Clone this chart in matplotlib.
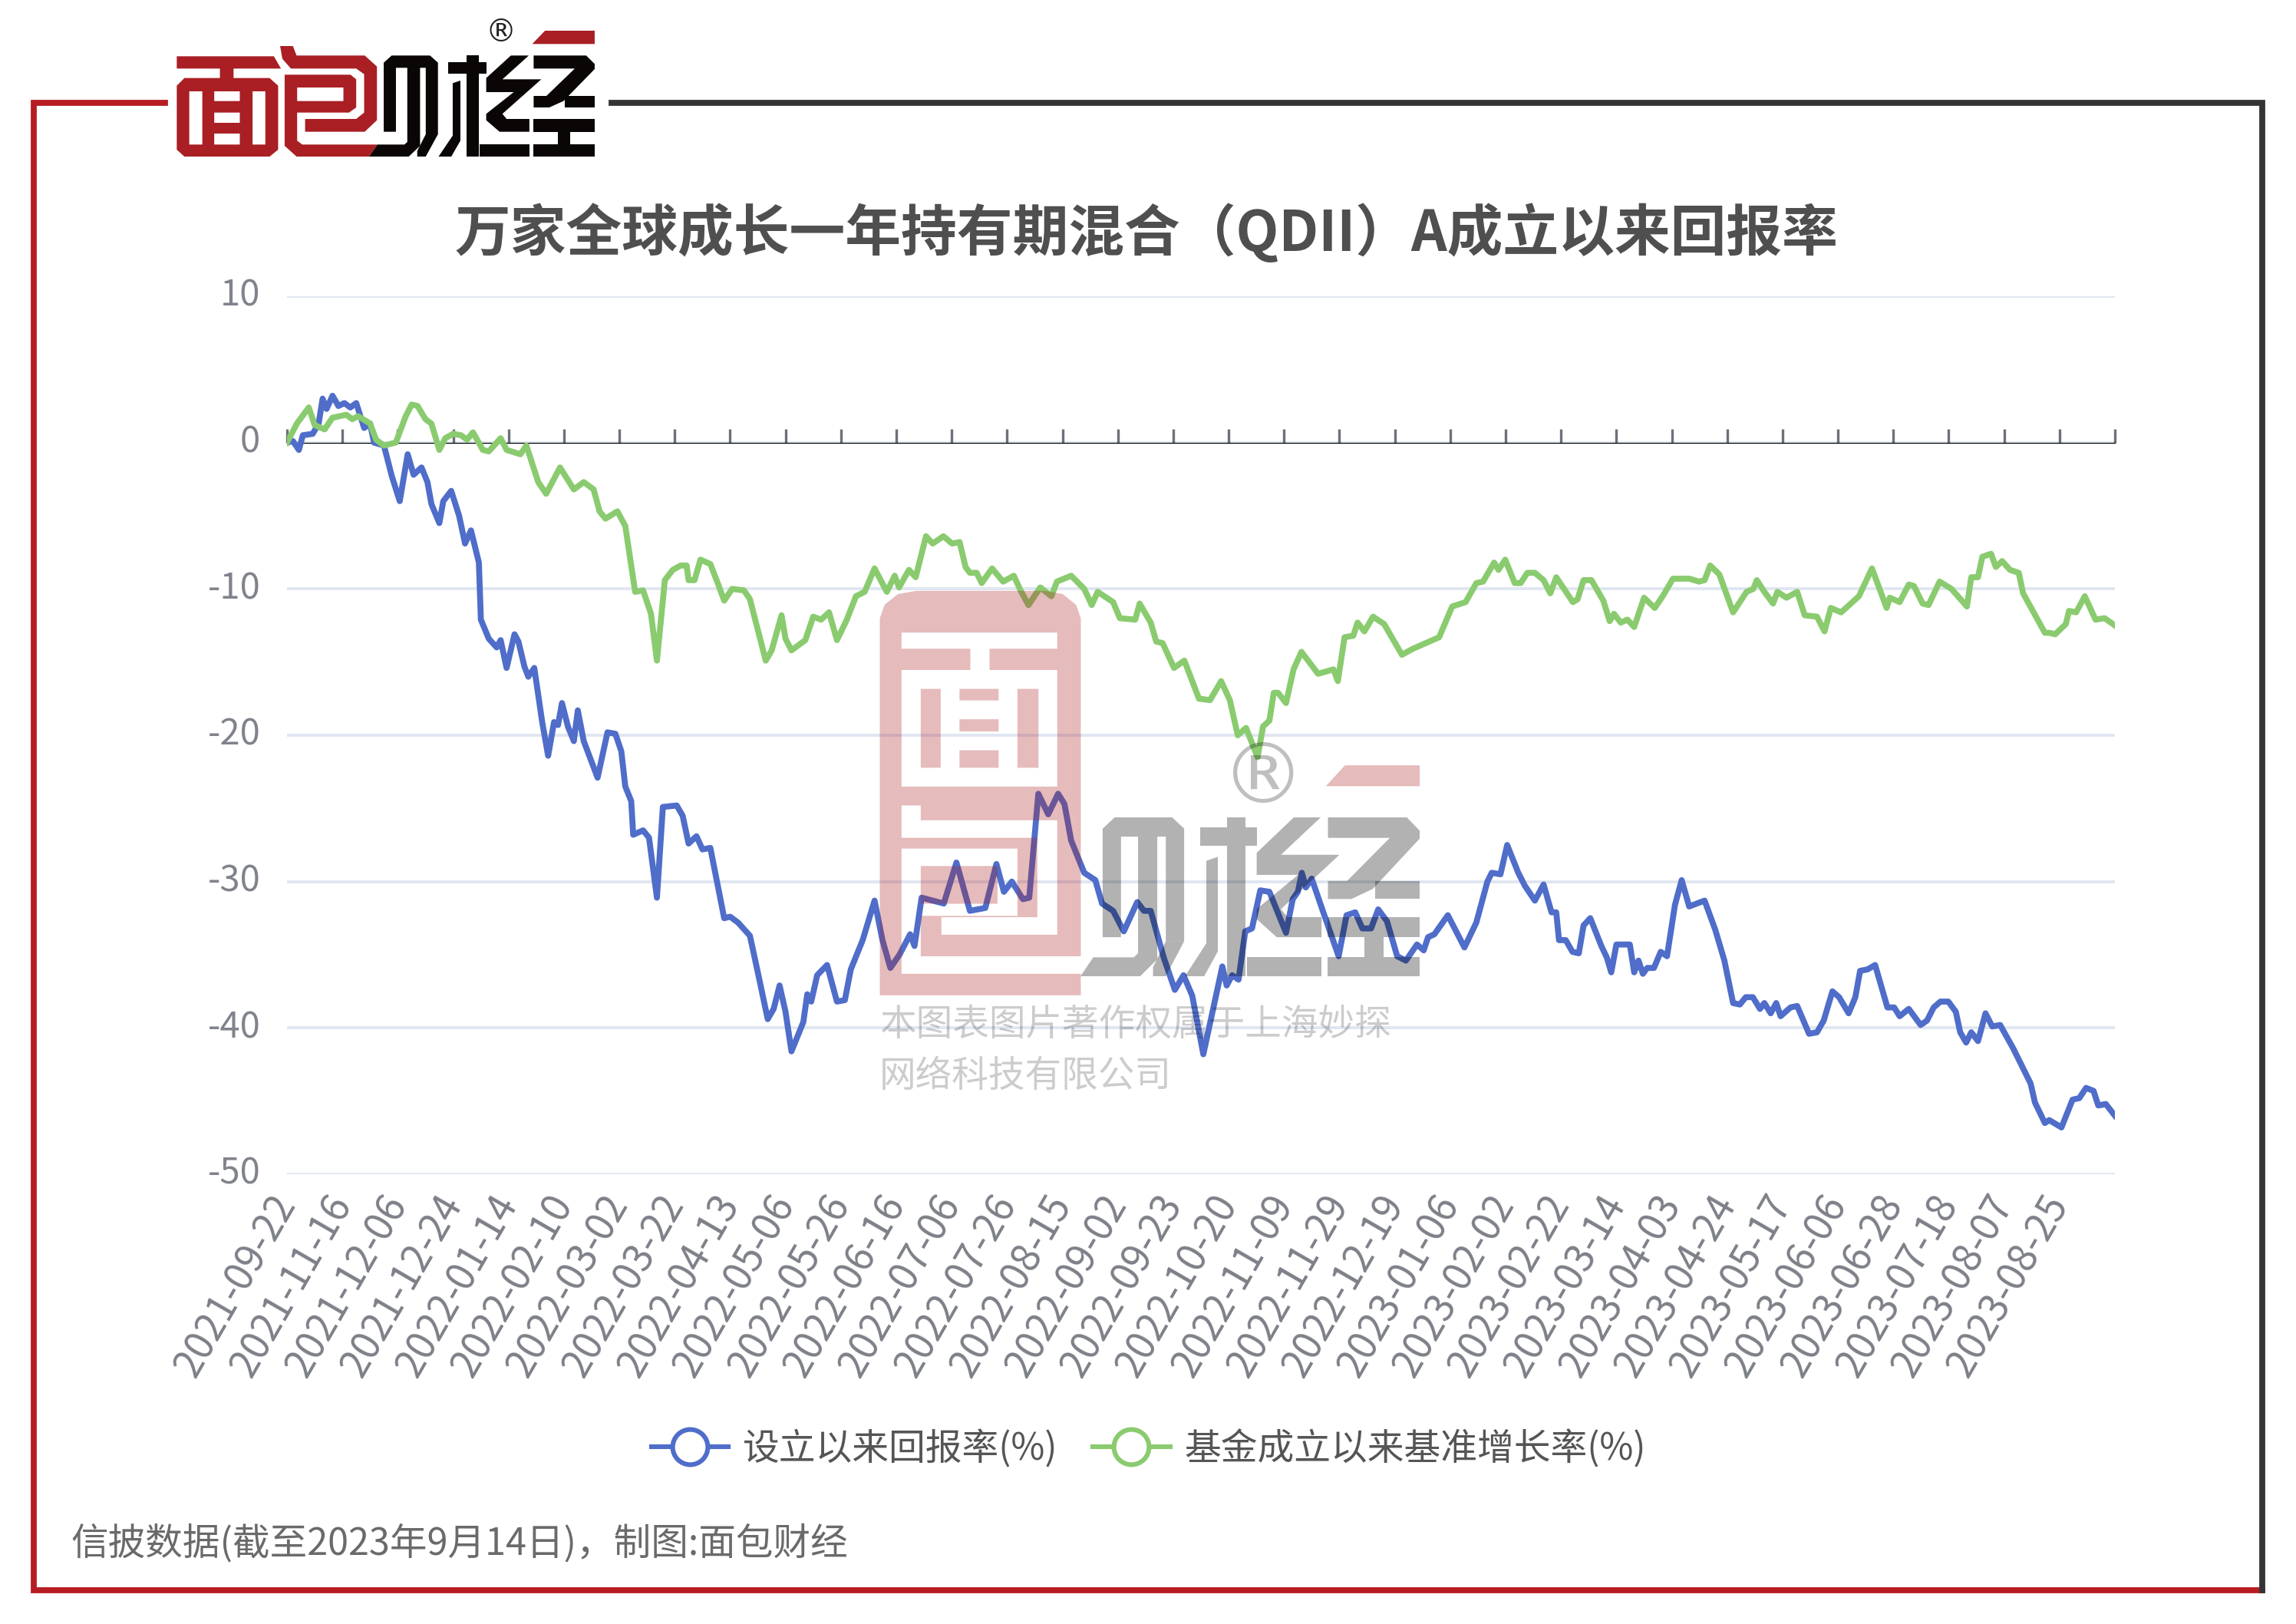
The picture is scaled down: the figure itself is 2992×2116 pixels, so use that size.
import matplotlib
matplotlib.use("Agg")
import matplotlib.pyplot as plt
import numpy as np
from matplotlib.lines import Line2D
from matplotlib.patches import PathPatch
from matplotlib.path import Path
from matplotlib.transforms import ScaledTranslation

plt.rcParams["font.family"] = ["Noto Sans CJK SC", "DejaVu Sans"]

# --- Data (x = trading day since start) ---
title = "万家全球成长一年持有期混合（QDII）A成立以来回报率"
series_names = ["设立以来回报率(%)", "基金成立以来基准增长率(%)"]
date_labels = [
    "2021-09-22", "2021-11-16", "2021-12-06", "2021-12-24", "2022-01-14", "2022-02-10",
    "2022-03-02", "2022-03-22", "2022-04-13", "2022-05-06", "2022-05-26", "2022-06-16",
    "2022-07-06", "2022-07-26", "2022-08-15", "2022-09-02", "2022-09-23", "2022-10-20",
    "2022-11-09", "2022-11-29", "2022-12-19", "2023-01-06", "2023-02-02", "2023-02-22",
    "2023-03-14", "2023-04-03", "2023-04-24", "2023-05-17", "2023-06-06", "2023-06-28",
    "2023-07-18", "2023-08-07", "2023-08-25",
]
days_per_tick = 14
y_ticks = [10, 0, -10, -20, -30, -40, -50]

fund_day = [
    0, 1.5, 3, 4, 6.5, 8, 9, 10, 11.5, 13, 14.5, 16, 17.5, 19.5, 21, 22, 24.5, 26.5, 28.5, 30.5,
    32, 34, 35.5, 36.5, 38.5, 39.5, 41.5, 43.5, 45, 46.5, 48.5, 49, 51, 53, 54, 55.5, 57.5, 58.5, 60, 61,
    62.5, 64.5, 66, 67.5, 68.5, 69.5, 71, 72.5, 73.5, 75, 78.5, 81, 83, 84.5, 85.5, 87, 87.5, 90, 91.5, 93.5,
    95, 98.5, 100, 101.5, 103.5, 105, 107, 110.5, 112, 114, 117, 119, 121.5, 123, 124.5, 126, 127.5, 130.5, 131.5, 132.5,
    134, 136.5, 139, 141, 142.5, 145.5, 148.5, 150.5, 152.5, 154.8, 157.5, 158.6, 160.4, 166, 169.2, 172.6, 176.5, 179.3, 181.2, 183.2,
    186, 187.6, 189.9, 192.4, 194.9, 196.5, 198.2, 201.5, 204.3, 206, 208.8, 211.5, 214.9, 216.6, 218.3, 221.6, 224.4, 226.6, 228.8, 231.6,
    236.4, 237.5, 238.9, 240.5, 242.2, 243.9, 246, 248.3, 252.5, 254.2, 255.5, 256.5, 257.5, 259, 261.8, 265.8, 267.8, 270, 271.8, 274,
    275.8, 278, 280.6, 282.8, 285.6, 287.3, 288.4, 290, 293.4, 297.6, 300.6, 303.4, 304.5, 306.7, 308.4, 311.2, 312.9, 315.4, 317.6, 319.6,
    320.8, 321.5, 323.2, 324.9, 326.5, 327.7, 329.4, 332.2, 333.6, 334.7, 336, 339.4, 340.5, 341.6, 342.7, 343.8, 345.5, 347.2, 348.8, 350.8,
    352.5, 354.4, 358.3, 361, 363.3, 365.5, 367.2, 368.7, 370.5, 372.3, 373.4, 375, 376.4, 377.5, 380, 381.7, 384.7, 386.7, 388.4, 390.6,
    392.3, 394.7, 396.4, 397.6, 399.5, 401.4, 404.5, 406.2, 407.6, 409.9, 412.9, 414.5, 416.2, 417.9, 419.9, 421.8, 422.9, 424.4, 425.7, 427.4,
    429.3, 431, 433, 436.3, 440.7, 441.8, 444.3, 445.4, 448.5, 451.3, 453, 454.7, 456.6, 457.8, 459.7, 462,
]
fund_return = [
    0, 0.1, -0.5, 0.5, 0.6, 1.3, 3.0, 2.3, 3.2, 2.5, 2.7, 2.4, 2.7, 1.0, 1.3, 0, -0.2, -2.3, -4.0, -0.8,
    -2.2, -1.7, -2.7, -4.2, -5.5, -4.0, -3.3, -5.0, -6.9, -6.0, -8.2, -12.1, -13.4, -14.0, -13.5, -15.4, -13.1, -13.6, -15.3, -16.0,
    -15.4, -19.1, -21.4, -19.1, -19.3, -17.8, -19.4, -20.4, -18.3, -20.4, -22.9, -19.8, -19.9, -21.1, -23.5, -24.5, -26.8, -26.5, -27.0, -31.1,
    -24.9, -24.8, -25.5, -27.4, -26.9, -27.8, -27.7, -32.5, -32.4, -32.8, -33.7, -36.2, -39.4, -38.7, -37.1, -38.9, -41.6, -39.6, -37.7, -38.2,
    -36.4, -35.7, -38.2, -38.1, -36.0, -34.0, -31.3, -34.0, -35.9, -35.0, -33.6, -34.4, -31.1, -31.5, -28.7, -32.0, -31.8, -28.8, -30.7, -30.0,
    -31.2, -31.1, -24.0, -25.4, -24.0, -24.7, -27.2, -29.4, -29.9, -31.5, -32.0, -33.4, -31.4, -32.0, -32.0, -35.2, -37.4, -36.4, -37.8, -41.8,
    -35.8, -37.1, -36.4, -36.7, -33.4, -33.2, -30.6, -30.7, -33.5, -31.2, -30.7, -29.4, -30.4, -29.8, -32.0, -35.1, -32.3, -32.1, -33.2, -33.2,
    -31.9, -32.7, -35.1, -35.4, -34.3, -34.7, -33.8, -33.6, -32.3, -34.5, -32.8, -30.0, -29.4, -29.5, -27.5, -29.4, -30.3, -31.3, -30.2, -32.1,
    -32.1, -34.0, -34.0, -34.8, -34.9, -33.0, -32.5, -34.4, -35.2, -36.2, -34.3, -34.3, -36.2, -35.4, -36.3, -35.9, -35.9, -34.8, -35.1, -31.6,
    -29.9, -31.7, -31.3, -33.3, -35.4, -38.3, -38.4, -37.9, -37.9, -38.7, -38.3, -39.0, -38.3, -39.2, -38.6, -38.5, -40.4, -40.3, -39.5, -37.5,
    -37.9, -39.0, -37.9, -36.1, -36.0, -35.7, -38.6, -38.6, -39.2, -38.7, -39.8, -39.5, -38.6, -38.2, -38.2, -38.9, -40.3, -41.0, -40.3, -40.9,
    -39.0, -39.9, -39.8, -41.4, -43.8, -45.1, -46.5, -46.3, -46.8, -44.9, -44.8, -44.1, -44.3, -45.3, -45.2, -46.0,
]
bench_day = [
    0, 2.5, 5.5, 7, 9.5, 11.5, 15, 16.5, 18, 21, 22.5, 24.5, 27.5, 30, 31.5, 33, 35, 36.5, 38.5, 40,
    42, 44, 45.5, 47, 49.5, 51, 54, 55.5, 59, 60.5, 63.5, 65.5, 69, 72.5, 75, 77.5, 79, 80.5, 83.5, 85.5,
    88, 90, 92, 93.5, 95.5, 97.5, 99.5, 101, 101.5, 103, 104.5, 107, 109, 110.5, 112.5, 115.5, 117, 121, 122.5, 125,
    126, 127.5, 131, 133, 135, 137, 139, 141.5, 143.8, 146, 148.5, 151.6, 153.6, 154.7, 157.2, 158.9, 161.5, 163.2, 165.9, 168.1,
    170, 171.5, 172.6, 174.3, 175.6, 178.2, 181, 183.7, 185.4, 187.4, 190.4, 193.2, 194.6, 198.2, 201.5, 203.4, 204.9, 208.8, 210.5, 214.4,
    215.5, 218.3, 219.7, 221.3, 224.2, 226.8, 230.5, 233.3, 236.1, 238.3, 240.3, 242.4, 245.3, 246.7, 248.3, 249.4, 250.5, 252.5, 254.4, 256.4,
    260.6, 264.5, 265.6, 267.3, 269.5, 270.6, 272.3, 274.5, 277.3, 281.8, 284.5, 291.2, 294.5, 297.9, 300.6, 302.3, 305.1, 306.2, 307.9, 310.3,
    311.8, 313.5, 315.4, 317.6, 319.3, 320.8, 325, 326.2, 327.7, 329.7, 332.7, 334.3, 335.4, 337.1, 338.8, 340.5, 343, 345.7, 347.7, 350.3,
    354.4, 356.9, 358.3, 359.7, 362, 365.5, 368.9, 370.6, 371.5, 373.4, 375.6, 376.7, 379, 381.7, 383.6, 386.7, 388.6, 390.2, 392.8, 397.3,
    400.6, 404.3, 405.1, 407.6, 409.9, 411.2, 413.4, 414.9, 417.7, 420.7, 424.6, 425.7, 427.4, 428.5, 430.7, 431.9, 433.5, 435.5, 437.7, 438.8,
    444.3, 445.4, 446.9, 449.6, 450.4, 452.2, 454.4, 457.1, 459.4, 462,
]
bench_return = [
    0, 1.3, 2.4, 1.2, 0.9, 1.7, 1.9, 1.6, 1.8, 1.3, 0.2, -0.2, 0, 1.8, 2.6, 2.5, 1.6, 1.3, -0.5, 0.3,
    0.6, 0.5, 0.2, 0.7, -0.5, -0.6, 0.3, -0.5, -0.8, -0.2, -2.7, -3.5, -1.7, -3.2, -2.7, -3.2, -4.7, -5.2, -4.7, -5.7,
    -10.2, -10.1, -11.7, -14.9, -9.4, -8.7, -8.4, -8.4, -9.4, -9.4, -8.0, -8.3, -9.7, -10.8, -10.0, -10.1, -10.7, -14.9, -14.2, -11.8,
    -13.4, -14.2, -13.5, -11.9, -12.1, -11.6, -13.5, -12.1, -10.5, -10.2, -8.6, -10.2, -9.1, -9.9, -8.7, -9.2, -6.4, -6.9, -6.4, -6.9,
    -6.8, -8.5, -8.9, -8.9, -9.6, -8.6, -9.5, -9.1, -10.1, -11.1, -9.9, -10.5, -9.5, -9.1, -10.0, -11.1, -10.2, -10.9, -12.0, -12.1,
    -11.0, -12.3, -13.6, -13.7, -15.4, -14.9, -17.5, -17.6, -16.3, -17.6, -20.0, -19.5, -21.5, -19.4, -19.0, -17.1, -17.1, -17.8, -15.5, -14.3,
    -15.8, -15.5, -16.3, -13.3, -13.2, -12.3, -12.9, -11.9, -12.4, -14.5, -14.1, -13.3, -11.2, -10.9, -9.6, -9.5, -8.2, -8.7, -8.0, -9.6,
    -9.6, -8.9, -8.9, -9.4, -10.3, -9.2, -10.9, -10.7, -9.4, -9.4, -10.8, -12.2, -11.7, -12.3, -12.1, -12.6, -10.6, -11.3, -10.5, -9.3,
    -9.3, -9.5, -9.4, -8.4, -9.0, -11.6, -10.2, -10.0, -9.4, -10.2, -11.0, -10.2, -10.6, -10.2, -11.8, -11.9, -12.9, -11.3, -11.6, -10.5,
    -8.6, -11.3, -10.6, -10.9, -9.7, -9.8, -11.0, -11.1, -9.5, -10.0, -11.2, -9.2, -9.2, -7.8, -7.6, -8.5, -8.1, -8.7, -8.9, -10.3,
    -13.0, -13.0, -13.1, -12.4, -11.5, -11.6, -10.5, -12.1, -12.0, -12.5,
]

# --- Figure ---
W, H = 2992, 2116
fig = plt.figure(figsize=(W / 100, H / 100), dpi=100, facecolor="white")
ax = fig.add_axes([374 / W, 1 - 1530 / H, (2756 - 374) / W, (1530 - 386) / H])

blue, green = "#4F6DC9", "#8ACB6F"
ax.plot(fund_day, fund_return, color=blue, lw=5.6, solid_joinstyle="round", zorder=3)
ax.plot(bench_day, bench_return, color=green, lw=5.6, solid_joinstyle="round", zorder=3)

ticks = np.arange(len(date_labels) + 1) * days_per_tick
ax.set_xlim(0, ticks[-1])
ax.set_ylim(-50, 10)
ax.set_yticks(y_ticks)
ax.set_yticklabels([str(v) for v in y_ticks], fontsize=34, color="#80838C")
ax.tick_params(axis="y", length=0, pad=25)
ylab_shift = ScaledTranslation(0, 6 / 100, fig.dpi_scale_trans)
for lab in ax.get_yticklabels():
    lab.set_verticalalignment("center_baseline")
    lab.set_transform(lab.get_transform() + ylab_shift)
ax.grid(axis="y", color="#E0E6F1", lw=2.8, zorder=0)
ax.set_axisbelow(True)
for side in ax.spines:
    ax.spines[side].set_visible(False)

# date labels sit under the plot, tick marks sit on the zero line
ax.set_xticks(ticks[:-1])
ax.set_xticklabels(date_labels, fontsize=37, color="#7D8088", rotation=60, ha="right",
                   va="top", rotation_mode="anchor")
ax.tick_params(axis="x", length=0, pad=18)
xlab_shift = ScaledTranslation(-23 / 100, 8 / 100, fig.dpi_scale_trans)
for lab in ax.get_xticklabels():
    lab.set_transform(lab.get_transform() + xlab_shift)

zero_axis = ax.secondary_xaxis(50 / 60)
zero_axis.set_xticks(ticks)
zero_axis.set_xticklabels([])
zero_axis.tick_params(length=13, width=2.4, color="#6E7079")
zero_axis.spines["bottom"].set_color("#6E7079")
zero_axis.spines["bottom"].set_linewidth(2.8)
zero_axis.set_zorder(1)

fig.text(1494 / W, 1 - 304 / H, title, fontsize=52.4, fontweight="bold", color="#4F4F4F",
         ha="center", va="center")

handles = [
    Line2D([], [], color=c, lw=4.4, marker="o", ms=33, mfc="white", mec=c, mew=4.4)
    for c in (blue, green)
]
fig.legend(handles, series_names, loc="center", bbox_to_anchor=(1497 / W, 1 - 1888 / H), ncol=2,
           frameon=False, fontsize=34.4, labelcolor="#555555", handlelength=2.1, handletextpad=0.4,
           columnspacing=0.95, borderpad=0)

fig.text(92 / W, 1 - 2011 / H, "信披数据(截至2023年9月14日)，制图:面包财经", fontsize=35,
         color="#6A6A6A", ha="left", va="center")

# --- Frame, logo and watermark live on an overlay in pixel coordinates ---
deco = fig.add_axes([0, 0, 1, 1], zorder=5)
deco.set_xlim(0, W)
deco.set_ylim(H, 0)
deco.axis("off")
deco.patch.set_alpha(0)

red, dark = "#B71C23", "#343434"
frame_w = 5.6
deco.plot([215, 44, 44, 2948], [134, 134, 2072, 2072], color=red, lw=frame_w, solid_joinstyle="miter")
deco.plot([797, 2948, 2948], [134, 134, 2072], color=dark, lw=frame_w, solid_joinstyle="miter")


def rect(x0, y0, x1, y1):
    return [(x0, y0), (x1, y0), (x1, y1), (x0, y1)]


def signed_area(poly):
    pts = np.array(poly)
    x, y = pts[:, 0], pts[:, 1]
    return 0.5 * np.sum(x * np.roll(y, -1) - np.roll(x, -1) * y)


def add_shape(solid, holes, ox, oy, sx, sy, color, alpha=1.0):
    # holes run the other way round so the nonzero fill leaves them empty
    parts = []
    for poly, sign in [(p, 1) for p in solid] + [(p, -1) for p in holes]:
        pts = list(poly)
        if signed_area(pts) * sign < 0:
            pts = pts[::-1]
        pts = np.array(pts + [pts[0]], dtype=float)
        pts = np.column_stack([ox + pts[:, 0] * sx, oy + pts[:, 1] * sy])
        parts.append(Path(pts, closed=True))
    deco.add_patch(PathPatch(Path.make_compound_path(*parts), fc=color, ec="none", alpha=alpha))


# header logo glyph outlines, in one local unit system
mian = [(28, 275), (55, 245), (180, 245), (180, 208), (28, 208), (28, 160), (370, 160), (395, 208),
        (228, 208), (228, 245), (355, 245), (385, 275), (385, 525), (355, 552), (55, 552), (28, 525)]
mian_holes = [rect(72, 297, 118, 505), rect(295, 297, 340, 505), rect(160, 297, 250, 335),
              rect(160, 380, 250, 420), rect(160, 462, 250, 505)]
bao_outer = [(392, 120), (437, 120), (450, 157), (690, 157), (733, 200), (733, 410), (690, 455), (480, 455),
             (480, 405), (660, 405), (688, 380), (688, 230), (660, 208), (430, 208), (400, 170)]
bao_inner = [(408, 232), (640, 232), (660, 250), (660, 360), (635, 380), (452, 380), (452, 490), (470, 505),
             (735, 505), (705, 552), (450, 552), (408, 510)]
bao_hole = [rect(452, 282, 615, 335)]
cai_parts = [
    [(757, 455), (757, 185), (785, 157), (920, 157), (948, 185), (948, 465), (905, 465), (905, 205),
     (885, 205), (885, 510), (845, 552), (705, 552), (735, 505), (830, 505), (840, 495), (840, 205),
     (800, 205), (800, 455)],
    [(905, 465), (948, 465), (905, 552), (875, 552), (875, 530)],
    [(985, 182), (1048, 182), (1048, 157), (1092, 157), (1092, 182), (1118, 182), (1118, 228), (1092, 228),
     (1092, 552), (1048, 552), (1048, 228), (985, 228)],
    [(1000, 265), (1027, 255), (1027, 490), (995, 552), (950, 552), (1000, 470)],
]
jing_parts = [
    [(1205, 157), (1268, 157), (1175, 250), (1312, 250), (1175, 385), (1190, 405), (1270, 405), (1270, 455),
     (1165, 455), (1118, 410), (1118, 385), (1215, 300), (1118, 300), (1118, 245)],
    rect(1095, 505, 1270, 552),
    [(1285, 157), (1470, 157), (1500, 190), (1500, 210), (1390, 335), (1340, 360), (1285, 360), (1285, 315),
     (1330, 315), (1430, 208), (1285, 208)],
    rect(1395, 315, 1500, 360),
    rect(1285, 405, 1500, 455),
    rect(1370, 455, 1415, 505),
    rect(1285, 505, 1500, 552),
]
wedge = [(1280, 112), (1325, 60), (1500, 60), (1500, 112)]

logo_red, logo_black = "#A91F24", "#0A0606"
lx, ly, lsx, lsy = 220, 20, 1 / 2.703, 1 / 3.0
add_shape([mian], mian_holes, lx, ly, lsx, lsy, logo_red)
add_shape([bao_outer], [], lx, ly, lsx, lsy, logo_red)
add_shape([bao_inner], bao_hole, lx, ly, lsx, lsy, logo_red)
add_shape([wedge], [], lx, ly, lsx, lsy, logo_red)
for part in cai_parts + jing_parts:
    add_shape([part], [], lx, ly, lsx, lsy, logo_black)
deco.text(653, 43, "®", family="DejaVu Sans", fontsize=29, color="#222222", ha="center", va="center")

# watermark: red block with white strokes, grey word beside it, blended over the lines
wm_alpha = 0.3
block = [(35, 1530), (35, 130), (48, 80), (85, 40), (135, 28), (490, 28), (540, 40), (577, 80), (590, 130),
         (590, 1530)]
block_holes = [
    [(95, 183), (525, 183), (525, 243), (338, 243), (338, 322), (525, 322), (525, 755), (95, 755), (95, 322),
     (285, 322), (285, 243), (95, 243)],
    [(95, 825), (148, 825), (148, 880), (525, 880), (525, 1305), (205, 1305), (205, 1240), (470, 1240),
     (470, 945), (95, 945)],
    [(95, 985), (415, 985), (415, 1235), (148, 1235), (148, 1385), (590, 1385), (590, 1450), (95, 1450)],
]
block_islands = [rect(148, 392, 203, 685), rect(415, 392, 473, 685), rect(255, 392, 363, 435),
                 rect(255, 505, 363, 550), rect(255, 620, 363, 685), rect(148, 1050, 360, 1190)]
add_shape([block] + block_islands, block_holes, 1130, 760, 1 / 2.119, 1 / 2.85, logo_red, wm_alpha)

wsx, wsy = 0.556, 0.524
wox, woy = 1408 - 705 * wsx, 1065 - 157 * wsy
for part in cai_parts + jing_parts:
    add_shape([part], [], wox, woy, wsx, wsy, "#000000", wm_alpha)
add_shape([wedge], [], wox, woy - 17, wsx, wsy, logo_red, wm_alpha)
deco.text(1646, 1016, "®", family="DejaVu Sans", fontsize=78, color="#000000", alpha=0.25,
          ha="center", va="center")
deco.text(1146, 1335, "本图表图片著作权属于上海妙探", fontsize=34.3, color="#000000", alpha=0.2,
          ha="left", va="center")
deco.text(1146, 1402, "网络科技有限公司", fontsize=34.3, color="#000000", alpha=0.2, ha="left", va="center")

plt.savefig("out.png", dpi=100)
